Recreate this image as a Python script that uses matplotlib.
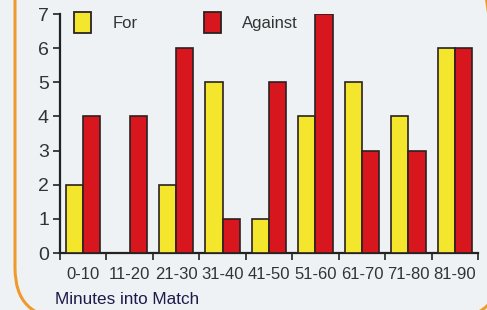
import matplotlib as mpl
import matplotlib.pyplot as plt
import numpy as np
from matplotlib.patches import FancyBboxPatch, Patch

mpl.rc('font', family=['Liberation Sans', 'DejaVu Sans'])

# Goals scored / conceded per 10-minute period
periods = ['0-10', '11-20', '21-30', '31-40', '41-50', '51-60', '61-70', '71-80', '81-90']
goals_for = [2, 0, 2, 5, 1, 4, 5, 4, 6]
goals_against = [4, 4, 6, 1, 5, 7, 3, 3, 6]

paper = '#eff2f5'
yellow = '#f3e62c'
red = '#d8161d'
edge = '#2b2222'

fig = plt.figure(figsize=(4.87, 3.1), dpi=100, facecolor=paper)

# orange rounded frame of the magazine panel (in inches, so corners stay round)
frame = FancyBboxPatch((0.15, -0.08), 4.85, 4.0,
                       boxstyle='round,pad=0,rounding_size=0.5',
                       transform=fig.dpi_scale_trans, facecolor='none',
                       edgecolor='#f09a2c', linewidth=2.2, zorder=0)
fig.patches.append(frame)

ax = fig.add_axes([60 / 487, 1 - 253 / 310, (478 - 60) / 487, (253 - 14) / 310])
ax.set_facecolor('none')

x = np.arange(len(periods))
w = 0.37
ax.bar(x - w / 2, goals_for, w, color=yellow, edgecolor=edge, linewidth=1.2, zorder=3)
ax.bar(x + w / 2, goals_against, w, color=red, edgecolor=edge, linewidth=1.2, zorder=3)

ax.set_xlim(-0.5, len(periods) - 0.5)
ax.set_ylim(0, 7)
ax.set_yticks(range(8))
ax.set_yticklabels([str(i) for i in range(8)], fontsize=14, color='#333333')
ax.set_xticks(np.arange(len(periods) + 1) - 0.5)
ax.set_xticklabels([])
ax.set_xticks(x, minor=True)
ax.set_xticklabels(periods, minor=True, fontsize=12, color='#333333')
ax.tick_params(axis='x', which='minor', length=0, pad=10)
ax.tick_params(axis='x', which='major', length=5, width=1.2, color='#222222')
ax.tick_params(axis='y', length=5, width=1.2, color='#222222', pad=3)

for s in ['top', 'right']:
    ax.spines[s].set_visible(False)
for s in ['left', 'bottom']:
    ax.spines[s].set_linewidth(1.6)
    ax.spines[s].set_color('#222222')

handles = [Patch(facecolor=yellow, edgecolor=edge, linewidth=1.3, label='For'),
           Patch(facecolor=red, edgecolor=edge, linewidth=1.3, label='Against')]
ax.legend(handles=handles, loc='upper left', bbox_to_anchor=(14 / 418, 1.01), ncol=2,
          frameon=False, fontsize=12, handlelength=1.02, handleheight=1.6,
          handletextpad=1.3, columnspacing=3.95, labelcolor='#333333',
          borderpad=0, borderaxespad=0)

fig.text(55 / 487, 1 - 300 / 310, 'Minutes into Match', fontsize=12.3,
         color='#1e1a4a', va='center', ha='left')

plt.savefig('out.png', dpi=100, facecolor=paper)
